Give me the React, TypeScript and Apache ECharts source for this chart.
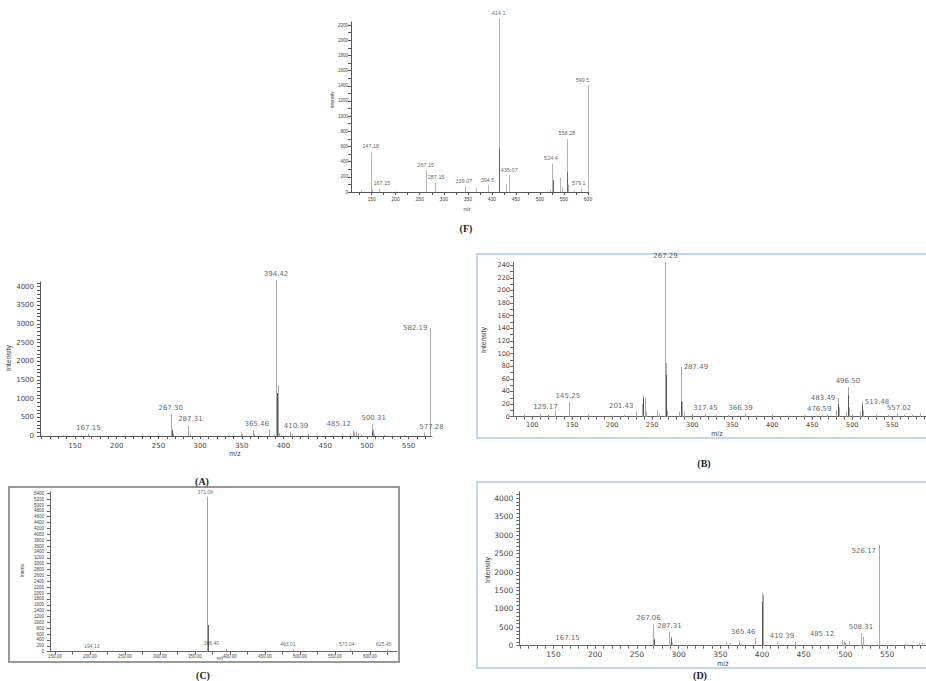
import React, { useEffect, useRef } from "react";
import * as echarts from "echarts";

// ---------- Panel F ----------
const fPeakMz = [128, 148, 150, 165, 200, 262.5, 282, 343.7, 366, 391, 414, 429, 436, 520, 525, 527, 542, 545, 556, 557, 559, 570, 585, 599];
const fPeakInt = [20, 528, 30, 44, 10, 286, 119, 75, 50, 88, 2290, 101, 220, 20, 374, 154, 189, 60, 700, 264, 97, 20, 44, 1408];
const fDarkMz = [415, 527, 557];
const fDarkInt = [572, 154, 264];
const fLabelMz = [148, 165, 262.5, 282, 343.7, 391, 414, 436, 525, 556, 585, 599];
const fLabelInt = [528, 44, 286, 119, 75, 88, 2290, 220, 374, 700, 44, 1408];
const fLabelText = ["147.18", "167.15", "267.15", "287.15", "339.07", "394.5", "414.1", "435.07", "524.4", "558.28", "579.1", "599.5"];
const fXLabels = [150, 200, 250, 300, 350, 400, 450, 500, 550, 600];
const fYLabels = [0, 200, 400, 600, 800, 1000, 1200, 1400, 1600, 1800, 2000, 2200];

// ---------- Panel A ----------
const aPeakMz = [120, 135, 166, 180, 240, 264.7, 266, 268, 285.9, 287.5, 300, 320, 335, 348.7, 350, 363, 365, 383, 389, 391, 393, 395, 407.8, 410, 429.7, 440, 483, 485, 487, 489.8, 493, 505.7, 507, 509, 520, 530, 545, 560, 569, 575.6];
const aPeakInt = [15, 20, 60, 15, 10, 600, 170, 60, 286, 60, 15, 20, 25, 107, 40, 152, 60, 170, 40, 4170, 1360, 80, 107, 40, 63, 20, 152, 100, 110, 80, 40, 313, 170, 60, 30, 20, 25, 20, 90, 2900];
const aDarkMz = [392, 266, 506.5];
const aDarkInt = [1150, 150, 120];
const aLabelMz = [166, 264.7, 285.9, 363, 391, 407.8, 483, 505.7, 569, 575.6];
const aLabelInt = [60, 600, 286, 152, 4170, 107, 152, 313, 90, 2900];
const aLabelText = ["167.15", "267.30", "287.31", "365.46", "394.42", "410.39", "485.12", "500.31", "577.28", "582.19"];
const aXLabels = [150, 200, 250, 300, 350, 400, 450, 500, 550];
const aYLabels = [0, 500, 1000, 1500, 2000, 2500, 3000, 3500, 4000];

// ---------- Panel B ----------
const bPeakMz = [90, 110, 120, 129, 145.8, 170, 200, 215, 230, 237, 238.6, 240.4, 242, 256, 258, 266.6, 267.5, 269, 284, 285.5, 286.2, 287.5, 290, 300, 316.6, 330, 345, 365.4, 380, 400, 420, 440, 455, 462.5, 468, 480, 482, 483.5, 492, 494.6, 496, 500, 510, 512.5, 514, 530, 545, 556, 565, 575, 585];
const bPeakInt = [3, 4, 3, 9, 24, 3, 2, 3, 8, 20, 33, 30, 8, 10, 4, 245, 85, 10, 8, 24, 79, 24, 8, 4, 5, 3, 3, 5, 2, 3, 2, 3, 2, 3, 4, 10, 30, 15, 8, 47, 15, 4, 8, 24, 10, 3, 3, 5, 3, 3, 5];
const bDarkMz = [238.9, 266.9, 286.5, 482.3, 494.9, 512.8];
const bDarkInt = [30, 66, 24, 20, 34, 18];
const bLabelMz = [129, 145.8, 230, 266.6, 286.2, 316.6, 365.4, 462.5, 482, 494.6, 512.5, 556];
const bLabelInt = [9, 24, 8, 245, 79, 5, 5, 3, 30, 47, 24, 5];
const bLabelText = ["129.17", "145.25", "201.43", "267.29", "287.49", "317.45", "366.39", "476.59", "483.49", "496.50", "513.48", "557.02"];
const bXLabels = [100, 150, 200, 250, 300, 350, 400, 450, 500, 550];
const bYLabels = [0, 20, 40, 60, 80, 100, 120, 140, 160, 180, 200, 220, 240];

// ---------- Panel C ----------
const cPeakMz = [207, 367.6, 395, 490, 571, 624];
const cPeakInt = [30, 5280, 110, 80, 80, 80];
const cDarkMz = [368.2];
const cDarkInt = [910];
const cLabelMz = [207, 367.6, 395, 490, 571, 624];
const cLabelInt = [30, 5280, 110, 80, 80, 80];
const cLabelText = ["194.13", "371.09", "386.40", "493.01", "573.04", "625.45"];
const cXLabels = [150, 200, 250, 300, 350, 400, 450, 500, 550, 600];
const cYLabels = [0, 200, 400, 600, 800, 1000, 1200, 1400, 1600, 1800, 2000, 2200, 2400, 2600, 2800, 3000, 3200, 3400, 3600, 3800, 4000, 4200, 4400, 4600, 4800, 5000, 5200, 5400];

// ---------- Panel D ----------
const dPeakMz = [120, 143, 168, 200, 268.7, 269.9, 289, 290.6, 292, 310, 330, 340, 357, 362, 373, 375, 391.9, 399.9, 401, 417.9, 420, 439.8, 462, 470, 495.8, 497.8, 500, 503.7, 518.6, 520.5, 530, 539.7, 549.7, 560, 571.7, 583, 587.7, 592];
const dPeakInt = [20, 15, 36, 10, 579, 200, 380, 244, 80, 20, 20, 25, 100, 70, 136, 60, 200, 1421, 1375, 90, 40, 100, 40, 25, 154, 110, 80, 120, 335, 244, 20, 2733, 20, 30, 40, 20, 70, 80];
const dDarkMz = [400.4, 270, 291];
const dDarkInt = [1195, 160, 200];
const dLabelMz = [168, 268.7, 289, 391.9, 417.9, 495.8, 518.6, 539.7];
const dLabelInt = [36, 579, 380, 200, 90, 154, 335, 2733];
const dLabelText = ["167.15", "267.06", "287.31", "365.46", "410.39", "485.12", "508.31", "526.17"];
const dXLabels = [150, 200, 250, 300, 350, 400, 450, 500, 550];
const dYLabels = [0, 500, 1000, 1500, 2000, 2500, 3000, 3500, 4000];

function tickValues(min: number, max: number, step: number): number[] {
  const out: number[] = [];
  for (let v = Math.ceil(min / step) * step; v <= max + 1e-9; v += step) out.push(+v.toFixed(4));
  return out;
}

type Panel = {
  grid: { left: number; top: number; width: number; height: number };
  xMin: number; xMax: number; yMax: number;
  xLabels: number[]; yLabels: number[];
  xTickStep: number; yTickStep: number;
  xFont: number; yFont: number; xMargin: number; yMargin: number;
  font: string;
  xFmt?: (v: number) => string;
  peakMz: number[]; peakInt: number[]; darkMz: number[]; darkInt: number[];
  labelMz: number[]; labelInt: number[]; labelText: string[];
  labelFont: number;
  labelPlace: Array<[string, number, number]>;
  lightColor: string; darkColor: string; axisColor: string;
};

const FONT = "Liberation Sans, Arial, sans-serif";
const WIDE = "DejaVu Sans, Verdana, sans-serif";

const panels: Panel[] = [
  {
    grid: { left: 351, top: 22, width: 237, height: 170 },
    xMin: 107, xMax: 600, yMax: 2240,
    xLabels: fXLabels, yLabels: fYLabels, xTickStep: 25, yTickStep: 100,
    xFont: 5, yFont: 4.5, xMargin: 4, yMargin: 3, font: FONT,
    peakMz: fPeakMz, peakInt: fPeakInt, darkMz: fDarkMz, darkInt: fDarkInt,
    labelMz: fLabelMz, labelInt: fLabelInt, labelText: fLabelText, labelFont: 5.5,
    labelPlace: [["top", 0, 0], ["top", 3, 0], ["top", 0, 0], ["top", 1, 0], ["top", -1, 0], ["top", 0, 0], ["top", 0, 0], ["top", 0, 0], ["top", -1, 0], ["top", 0, 0], ["top", -2, 0], ["top", -5, 0]],
    lightColor: "#b4b4b4", darkColor: "#666", axisColor: "#555",
  },
  {
    grid: { left: 40, top: 281.8, width: 392, height: 154.2 },
    xMin: 108, xMax: 578, yMax: 4130,
    xLabels: aXLabels, yLabels: aYLabels, xTickStep: 10, yTickStep: 100,
    xFont: 7, yFont: 7, xMargin: 6, yMargin: 6, font: WIDE,
    peakMz: aPeakMz, peakInt: aPeakInt, darkMz: aDarkMz, darkInt: aDarkInt,
    labelMz: aLabelMz, labelInt: aLabelInt, labelText: aLabelText, labelFont: 7,
    labelPlace: [["top", 0, 0], ["top", 0, 0], ["top", 2, 0], ["top", 4, 0], ["top", 0, 0], ["top", 6, 0], ["top", -14, 0], ["top", 2, 0], ["top", 7, 0], ["left", 0, 0]],
    lightColor: "#a8a8a8", darkColor: "#555", axisColor: "#555",
  },
  {
    grid: { left: 513, top: 262, width: 413, height: 154.7 },
    xMin: 76, xMax: 592.25, yMax: 245,
    xLabels: bXLabels, yLabels: bYLabels, xTickStep: 10, yTickStep: 10,
    xFont: 6.5, yFont: 6.5, xMargin: 5, yMargin: 3, font: WIDE,
    peakMz: bPeakMz, peakInt: bPeakInt, darkMz: bDarkMz, darkInt: bDarkInt,
    labelMz: bLabelMz, labelInt: bLabelInt, labelText: bLabelText, labelFont: 7,
    labelPlace: [["top", -10, 2], ["top", -1, 0], ["top", -15, 0], ["top", 0, 0], ["right", 0, 0], ["top", 0, 0], ["top", -4, 0], ["top", -3, 0], ["left", 0, 0], ["top", 0, 0], ["right", 0, 0], ["top", 2, 0]],
    lightColor: "#a8a8a8", darkColor: "#555", axisColor: "#666",
  },
  {
    grid: { left: 50, top: 491.8, width: 347, height: 159.9 },
    xMin: 143, xMax: 638.7, yMax: 5450,
    xLabels: cXLabels, yLabels: cYLabels, xTickStep: 25, yTickStep: 200,
    xFont: 4.5, yFont: 4.5, xMargin: 2, yMargin: 6, font: FONT,
    xFmt: (v: number) => v.toFixed(2),
    peakMz: cPeakMz, peakInt: cPeakInt, darkMz: cDarkMz, darkInt: cDarkInt,
    labelMz: cLabelMz, labelInt: cLabelInt, labelText: cLabelText, labelFont: 5,
    labelPlace: [["top", -3, 0], ["top", -2, 0], ["top", -15, 0], ["top", -5, 0], ["top", -3, 0], ["top", -3, 0]],
    lightColor: "#a0a0a0", darkColor: "#666", axisColor: "#666",
  },
  {
    grid: { left: 519.3, top: 491.7, width: 406.7, height: 154 },
    xMin: 109, xMax: 596.6, yMax: 4180,
    xLabels: dXLabels, yLabels: dYLabels, xTickStep: 10, yTickStep: 100,
    xFont: 7.5, yFont: 7.5, xMargin: 5, yMargin: 6, font: WIDE,
    peakMz: dPeakMz, peakInt: dPeakInt, darkMz: dDarkMz, darkInt: dDarkInt,
    labelMz: dLabelMz, labelInt: dLabelInt, labelText: dLabelText, labelFont: 7,
    labelPlace: [["top", -1, 0], ["top", -4, 0], ["top", 0, 0], ["top", -12, 0], ["top", 5, 0], ["top", -20, 0], ["top", 0, 0], ["left", 0, 6]],
    lightColor: "#a8a8a8", darkColor: "#555", axisColor: "#666",
  },
];

function stickSeries(idx: number, mz: number[], inten: number[], color: string) {
  return {
    type: "custom",
    xAxisIndex: idx,
    yAxisIndex: idx,
    clip: false,
    silent: true,
    data: mz.map((m, i) => [m, inten[i]]),
    encode: { x: 0, y: 1 },
    renderItem: (_p: any, api: any) => {
      const x = api.value(0);
      const y = api.value(1);
      const p0 = api.coord([x, 0]);
      const p1 = api.coord([x, y]);
      const px = Math.round(p0[0]) + 0.5;
      return {
        type: "line",
        shape: { x1: px, y1: p0[1], x2: px, y2: p1[1] },
        style: { stroke: color, lineWidth: 1 },
      };
    },
  };
}

function buildOption() {
  const grids: any[] = [];
  const xAxes: any[] = [];
  const yAxes: any[] = [];
  const series: any[] = [];
  panels.forEach((p, i) => {
    grids.push({ ...p.grid, containLabel: false });
    xAxes.push({
      type: "value", gridIndex: i, min: p.xMin, max: p.xMax,
      axisLine: { show: true, onZero: false, lineStyle: { color: p.axisColor, width: 1 } },
      axisTick: { show: true, customValues: tickValues(p.xMin, p.xMax, p.xTickStep), length: 3, lineStyle: { color: p.axisColor } },
      axisLabel: { customValues: p.xLabels, fontSize: p.xFont, color: "#444", margin: p.xMargin, fontFamily: p.font, formatter: p.xFmt ? (v: number) => p.xFmt!(v) : (v: number) => String(v) },
      splitLine: { show: false },
    });
    yAxes.push({
      type: "value", gridIndex: i, min: 0, max: p.yMax,
      axisLine: { show: true, lineStyle: { color: p.axisColor, width: 1 } },
      axisTick: { show: true, customValues: tickValues(0, p.yMax, p.yTickStep), length: 3, lineStyle: { color: p.axisColor } },
      axisLabel: { customValues: p.yLabels, fontSize: p.yFont, color: "#444", margin: p.yMargin, fontFamily: p.font, formatter: (v: number) => String(v) },
      splitLine: { show: false },
    });
    series.push(stickSeries(i, p.peakMz, p.peakInt, p.lightColor));
    series.push(stickSeries(i, p.darkMz, p.darkInt, p.darkColor));
    series.push({
      type: "scatter", xAxisIndex: i, yAxisIndex: i, clip: false, silent: true,
      symbolSize: 1, itemStyle: { color: "rgba(0,0,0,0)" },
      data: p.labelMz.map((m, k) => ({
        value: [m, p.labelInt[k]],
        label: {
          show: true,
          formatter: p.labelText[k],
          position: p.labelPlace[k][0],
          offset: [p.labelPlace[k][1], p.labelPlace[k][2]],
          distance: 2,
          fontSize: p.labelFont,
          color: "#3a3a3a",
          fontFamily: p.font,
        },
      })),
    });
  });

  const txt = (x: number, y: number, text: string, size: number, opts: any = {}) => ({
    type: "text", x, y, silent: true, ...opts,
    style: { text, fontSize: size, fill: "#444", fontFamily: FONT, align: "center", verticalAlign: "middle", ...(opts.style || {}) },
  });
  const cap = (x: number, y: number, text: string) => ({
    type: "text", x, y, silent: true,
    style: { text, fontSize: 10, fontWeight: "bold", fill: "#222", fontFamily: "Liberation Serif, Times New Roman, serif", align: "center", verticalAlign: "middle" },
  });

  const graphic: any[] = [
    { type: "rect", silent: true, shape: { x: 477, y: 254, width: 470, height: 184 }, style: { fill: "none", stroke: "#a9c9ea", lineWidth: 1.5 } },
    { type: "rect", silent: true, shape: { x: 477, y: 482, width: 470, height: 186 }, style: { fill: "none", stroke: "#a9c9ea", lineWidth: 1.5 } },
    { type: "rect", silent: true, shape: { x: 9, y: 487, width: 390, height: 175 }, style: { fill: "none", stroke: "#777", lineWidth: 1.5 } },
    txt(332, 100, "Intensity", 4.5, { rotation: Math.PI / 2 }),
    txt(467, 209, "m/z", 4.5),
    txt(8, 358, "Intensity", 7, { rotation: Math.PI / 2 }),
    txt(235, 453, "m/z", 7),
    txt(483, 340, "Intensity", 7, { rotation: Math.PI / 2 }),
    txt(717, 433, "m/z", 7),
    txt(22, 570, "Intens.", 5, { rotation: Math.PI / 2 }),
    txt(220, 658, "m/z", 4.5),
    txt(487, 570, "Intensity", 7, { rotation: Math.PI / 2 }),
    txt(723, 663, "m/z", 7),
    cap(466, 228, "(F)"),
    cap(202, 481, "(A)"),
    cap(704, 463, "(B)"),
    cap(203, 675, "(C)"),
    cap(700, 675, "(D)"),
  ];

  return {
    animation: false,
    backgroundColor: "#ffffff",
    grid: grids,
    xAxis: xAxes,
    yAxis: yAxes,
    series,
    graphic,
  };
}

export default function App() {
  const ref = useRef<HTMLDivElement>(null);
  useEffect(() => {
    if (!ref.current) return;
    const chart = echarts.init(ref.current, undefined, { renderer: "svg" });
    chart.setOption(buildOption() as any);
    return () => chart.dispose();
  }, []);
  return <div ref={ref} style={{ position: "fixed", left: 0, top: 0, width: 926, height: 681, background: "#fff" }} />;
}
